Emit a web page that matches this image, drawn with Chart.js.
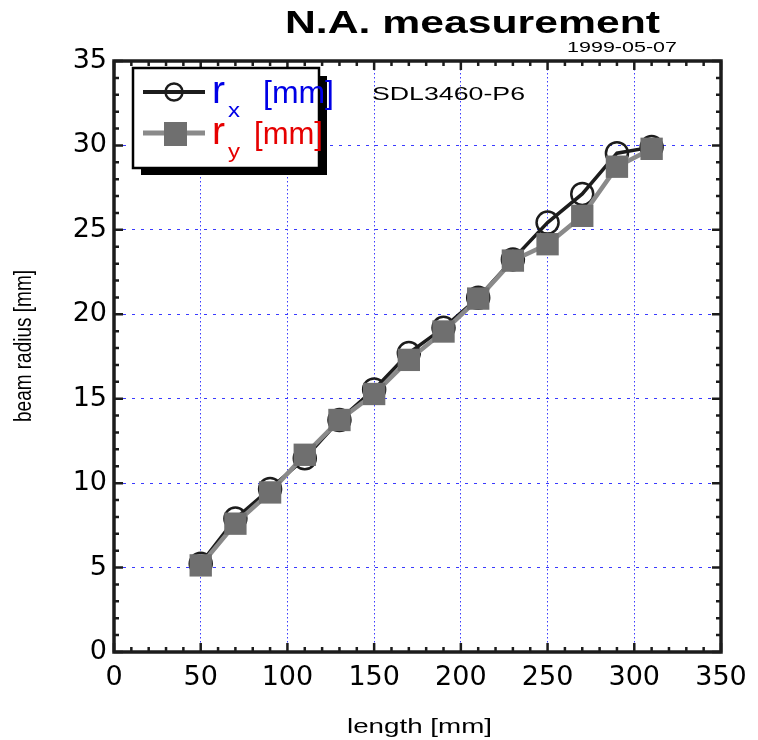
<!DOCTYPE html>
<html>
<head>
<meta charset="utf-8">
<script src="https://cdn.jsdelivr.net/npm/chart.js@4"></script>
<style>
  body { margin: 0; background: #fff; }
  #wrap { width: 758px; height: 740px; }
</style>
</head>
<body>
<div id="wrap"><canvas id="na" width="758" height="740"></canvas></div>
<script>
// data
const lengths = [50, 70, 90, 110, 130, 150, 170, 190, 210, 230, 250, 270, 290, 310];
const rx = [5.23, 7.9, 9.66, 11.47, 13.74, 15.55, 17.7, 19.2, 20.98, 23.25, 25.43, 27.13, 29.54, 29.9];
const ry = [5.13, 7.6, 9.45, 11.68, 13.74, 15.28, 17.3, 18.98, 20.93, 23.18, 24.15, 25.83, 28.74, 29.8];
const xTicks = [0, 50, 100, 150, 200, 250, 300, 350];
const yTicks = [0, 5, 10, 15, 20, 25, 30, 35];

const ink = '#1c1c1c';

function pts(ys) {
    return lengths.map(function (x, i) { return { x: x, y: ys[i] }; });
}

// draw text squeezed/stretched to a given width
function fitText(ctx, text, x, y, width, font, color) {
    ctx.save();
    ctx.font = font;
    ctx.fillStyle = color;
    ctx.textBaseline = 'alphabetic';
    ctx.textAlign = 'left';
    var w = ctx.measureText(text).width;
    ctx.translate(x, y);
    ctx.scale(width / w, 1);
    ctx.fillText(text, 0, 0);
    ctx.restore();
}

const decor = {
    id: 'decor',
    afterDraw: function (chart) {
        var ctx = chart.ctx;
        var a = chart.chartArea;
        var xs = chart.scales.x, ys = chart.scales.y;

        ctx.save();
        // inward ticks, all four sides
        ctx.strokeStyle = ink;
        ctx.lineWidth = 2.5;
        ctx.beginPath();
        for (var v = 0; v <= 350; v += 10) {
            var px = xs.getPixelForValue(v);
            var len = v % 50 === 0 ? 9 : 5;
            ctx.moveTo(px, a.bottom); ctx.lineTo(px, a.bottom - len);
            ctx.moveTo(px, a.top); ctx.lineTo(px, a.top + len);
        }
        for (var u = 0; u <= 35; u += 1) {
            var py = ys.getPixelForValue(u);
            var l2 = u % 5 === 0 ? 9 : 5;
            ctx.moveTo(a.left, py); ctx.lineTo(a.left + l2, py);
            ctx.moveTo(a.right, py); ctx.lineTo(a.right - l2, py);
        }
        ctx.stroke();

        // frame
        ctx.lineWidth = 3.5;
        ctx.strokeRect(a.left, a.top, a.right - a.left, a.bottom - a.top);

        // legend box with shadow
        ctx.fillStyle = '#000';
        ctx.fillRect(141, 76, 186, 99);
        ctx.fillStyle = '#fff';
        ctx.fillRect(133, 68, 186, 100);
        ctx.strokeStyle = '#000';
        ctx.lineWidth = 2.5;
        ctx.strokeRect(133, 68, 186, 100);

        // rx entry
        ctx.strokeStyle = ink;
        ctx.lineWidth = 4;
        ctx.beginPath(); ctx.moveTo(143, 92); ctx.lineTo(205, 92); ctx.stroke();
        ctx.lineWidth = 2.5;
        ctx.beginPath(); ctx.arc(174, 92, 8.5, 0, Math.PI * 2); ctx.stroke();
        // ry entry
        ctx.strokeStyle = '#8a8a8a';
        ctx.lineWidth = 5;
        ctx.beginPath(); ctx.moveTo(143, 133); ctx.lineTo(205, 133); ctx.stroke();
        ctx.fillStyle = '#6f6f6f';
        ctx.fillRect(164, 122, 23, 24);
        ctx.restore();

        var blue = '#0000e6', red = '#e60000';
        fitText(ctx, 'r', 212, 103, 13, '38px "Liberation Sans"', blue);
        fitText(ctx, 'x', 228, 117, 12, '20px "Liberation Sans"', blue);
        fitText(ctx, '[mm]', 263, 103, 71, '31px "Liberation Sans"', blue);
        fitText(ctx, 'r', 212, 144, 13, '38px "Liberation Sans"', red);
        fitText(ctx, 'y', 228, 158, 12, '20px "Liberation Sans"', red);
        fitText(ctx, '[mm]', 254, 144, 69, '31px "Liberation Sans"', red);

        // titles and notes
        fitText(ctx, 'N.A. measurement', 285, 33, 375, 'bold 32px "Liberation Sans"', '#000');
        fitText(ctx, '1999-05-07', 567, 52, 110, '14px "Liberation Sans"', '#000');
        fitText(ctx, 'SDL3460-P6', 372, 100, 153, '18px "Liberation Sans"', '#000');
        fitText(ctx, 'length [mm]', 347, 733, 145, '21px "Liberation Sans"', '#000');

        ctx.save();
        ctx.translate(31, 422);
        ctx.rotate(-Math.PI / 2);
        fitText(ctx, 'beam radius [mm]', 0, 0, 152, '23px "Liberation Sans"', '#000');
        ctx.restore();
    }
};

new Chart(document.getElementById('na'), {
    type: 'line',
    data: {
        datasets: [{
            label: 'rx [mm]',
            data: pts(rx),
            borderColor: ink,
            borderWidth: 3.5,
            pointStyle: 'circle',
            pointRadius: 11,
            pointBorderWidth: 2.5,
            pointBorderColor: ink,
            pointBackgroundColor: 'rgba(0,0,0,0)',
            order: 1
        }, {
            label: 'ry [mm]',
            data: pts(ry),
            borderColor: '#8a8a8a',
            borderWidth: 4.5,
            pointStyle: 'rect',
            pointRadius: 15.8,
            pointBorderWidth: 0,
            pointBackgroundColor: '#6f6f6f',
            pointBorderColor: '#6f6f6f',
            order: 0
        }]
    },
    options: {
        responsive: false,
        animation: false,
        layout: { padding: { left: 0, right: 37, top: 61, bottom: 0 } },
        plugins: {
            legend: { display: false },
            tooltip: { enabled: false }
        },
        scales: {
            x: {
                type: 'linear',
                min: 0,
                max: 350,
                afterBuildTicks: function (s) { s.ticks = xTicks.map(function (v) { return { value: v }; }); },
                afterFit: function (s) { s.height = 88; },
                grid: { color: '#3a3aff', lineWidth: 1, drawTicks: false },
                border: { display: false, dash: [1.5, 2.5] },
                ticks: { color: '#000', padding: 10, font: { family: 'DejaVu Sans', size: 27 }, maxRotation: 0 }
            },
            y: {
                min: 0,
                max: 35,
                afterBuildTicks: function (s) { s.ticks = yTicks.map(function (v) { return { value: v }; }); },
                afterFit: function (s) { s.width = 114; },
                grid: { color: '#3a3aff', lineWidth: 1, drawTicks: false },
                border: { display: false, dash: [3, 6] },
                ticks: { color: '#000', padding: 7, font: { family: 'DejaVu Sans', size: 27 } }
            }
        }
    },
    plugins: [decor]
});
</script>
</body>
</html>
